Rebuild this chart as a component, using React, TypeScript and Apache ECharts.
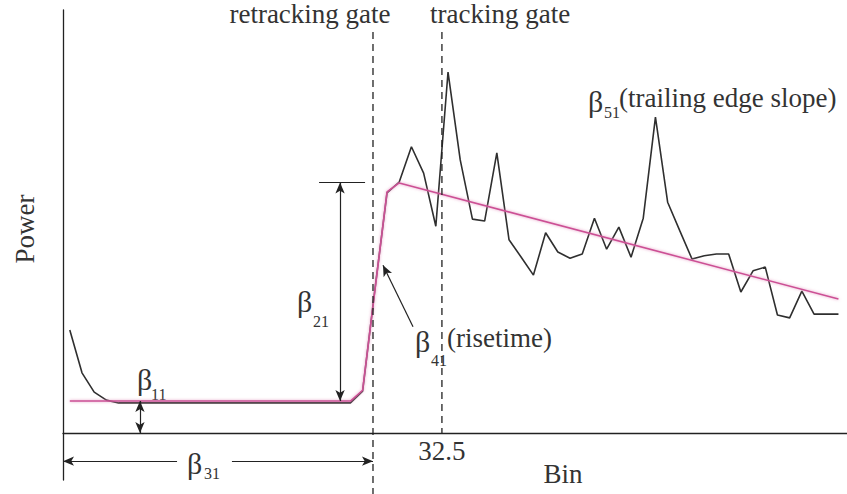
import React, { useEffect, useRef } from "react";
import * as echarts from "echarts";

// Received waveform: range bin and power
const BINS = [
  2, 3, 4, 5, 6, 7, 8, 9, 10, 11, 12, 13, 14, 15, 16, 17, 18, 19, 20, 21, 22, 23, 24, 25,
  26, 27, 28, 29, 30, 31, 32, 33, 34, 35, 36, 37, 38, 39, 40, 41, 42, 43, 44, 45, 46, 47,
  48, 49, 50, 51, 52, 53, 54, 55, 56, 57, 58, 59, 60, 61, 62, 63, 64, 65,
];
const POWER = [
  21.9, 12.8, 8.7, 7.0, 6.4, 6.4, 6.4, 6.4, 6.4, 6.4, 6.4, 6.4, 6.4, 6.4, 6.4, 6.4, 6.4,
  6.4, 6.4, 6.4, 6.4, 6.4, 6.4, 6.4, 8.9, 30.4, 51.1, 53.4, 60.9, 55.3, 44.0, 76.8, 58.1,
  45.5, 45.1, 59.6, 41.1, 37.4, 33.6, 42.6, 38.5, 37.2, 38.1, 45.7, 39.1, 43.8, 37.4,
  45.7, 67.2, 49.1, 43.0, 37.0, 37.7, 38.1, 38.1, 30.0, 34.5, 35.3, 25.1, 24.5, 30.2,
  25.3, 25.3, 25.3,
];

// Fitted model (five-parameter retracker)
const MODEL_BINS = [2, 25, 26, 28, 29, 65];
const MODEL_POWER = [6.8, 6.8, 9.1, 51.3, 53.2, 28.5];

// Model parameters shown as dimension arrows
const NOISE_LEVEL = 6.8; // beta 11
const PEAK_LEVEL = 53.3; // beta 11 + beta 21
const RETRACK_GATE = 26.85; // beta 31
const TRACK_GATE = 32.5;

const GATE_NAMES = ["retracking gate", "tracking gate"];
const GATE_BINS = [RETRACK_GATE, TRACK_GATE];
const X_TICKS = [32.5];

const SERIF = '"Liberation Serif", "Times New Roman", serif';
const INK = "#333";

function txt(text: string, x: number, y: number, size: number, align = "left") {
  return {
    type: "text",
    x,
    y,
    silent: true,
    style: {
      text,
      fill: INK,
      font: `${size}px ${SERIF}`,
      textAlign: align,
      align,
      textVerticalAlign: "middle",
      verticalAlign: "middle",
    },
  };
}

export default function App() {
  const ref = useRef<HTMLDivElement>(null);

  useEffect(() => {
    const chart = echarts.init(ref.current!, null, { renderer: "svg" });

    const arrowLine = { color: "#222", width: 1.2, type: "solid" as const };
    const end = (coord: number[], symbol: string) => ({ coord, symbol });

    const option: any = {
      animation: false,
      backgroundColor: "#fff",
      grid: {
        left: 63,
        right: 0,
        top: 10,
        bottom: 14,
        containLabel: false,
        outerBoundsMode: "none",
      },
      xAxis: {
        type: "value",
        min: 1.443,
        max: 65.7,
        name: "Bin",
        nameLocation: "middle",
        nameMoveOverlap: false,
        // the axis line sits on zero, above the bottom of the grid
        nameGap: -20,
        nameTextStyle: {
          fontFamily: SERIF,
          fontSize: 27,
          color: INK,
          padding: [0, 0, 0, 216],
        },
        axisLine: { onZero: true, lineStyle: { color: "#222", width: 1.3 } },
        axisTick: { show: false },
        splitLine: { show: false },
        axisLabel: {
          customValues: X_TICKS,
          fontFamily: SERIF,
          fontSize: 27,
          color: INK,
          margin: -43,
        },
      },
      yAxis: {
        type: "value",
        min: -10,
        max: 90,
        name: "Power",
        nameLocation: "middle",
        nameGap: 25,
        nameTextStyle: {
          fontFamily: SERIF,
          fontSize: 27,
          color: INK,
          padding: [0, 0, 0, 32],
        },
        axisLine: { show: true, onZero: false, lineStyle: { color: "#222", width: 1.3 } },
        axisTick: { show: false },
        axisLabel: { show: false },
        splitLine: { show: false },
      },
      series: [
        {
          name: "waveform",
          type: "line",
          symbol: "none",
          z: 2,
          lineStyle: { color: "#2f2f2f", width: 1.6 },
          data: BINS.map((b, i) => [b, POWER[i]]),
        },
        {
          name: "model",
          type: "line",
          symbol: "none",
          z: 3,
          lineStyle: {
            color: "#cc4f95",
            width: 1.6,
            shadowColor: "rgba(226,140,186,0.9)",
            shadowBlur: 3,
          },
          data: MODEL_BINS.map((b, i) => [b, MODEL_POWER[i]]),
        },
        ...GATE_BINS.map((g, i) => ({
          name: GATE_NAMES[i],
          type: "line",
          symbol: "none",
          clip: false,
          z: 4,
          lineStyle: { color: "#222", width: 1.3, type: [7, 5] },
          data: [
            [g, 85.3],
            [g, i === 0 ? -13 : 0],
          ],
        })),
        {
          name: "parameters",
          type: "line",
          data: [],
          z: 5,
          markLine: {
            silent: true,
            animation: false,
            symbolSize: [7, 11],
            label: { show: false },
            lineStyle: arrowLine,
            emphasis: { disabled: true },
            data: [
              // beta 21: amplitude
              [end([24.15, PEAK_LEVEL], "arrow"), end([24.15, NOISE_LEVEL], "arrow")],
              [end([22.43, PEAK_LEVEL], "none"), end([26.2, PEAK_LEVEL], "none")],
              // beta 11: thermal noise
              [end([7.75, NOISE_LEVEL], "arrow"), end([7.75, 0], "arrow")],
              // beta 31: mid-point of the leading edge
              [end([10.79, -6], "none"), end([1.443, -6], "arrow")],
              [end([15.29, -6], "none"), end([RETRACK_GATE, -6], "arrow")],
              // beta 41: rise time pointer
              [end([30.13, 22.6], "none"), end([27.67, 35.7], "arrow")],
            ],
          },
        },
      ],
      graphic: [
        txt("retracking gate", 310, 14, 27, "center"),
        txt("tracking gate", 430, 14, 27),
        txt("β", 297, 301, 30),
        txt("21", 313, 321.6, 16),
        txt("β", 137, 379, 30),
        txt("11", 151, 394.6, 16),
        txt("β", 187, 463, 30),
        txt("31", 204, 473.6, 16),
        txt("β", 415, 341, 30),
        txt("41", 431, 360.6, 16),
        txt("(risetime)", 447, 337.9, 27),
        txt("β", 588, 101, 30),
        txt("51", 604, 112.6, 16),
        txt("(trailing edge slope)", 619, 97.9, 27),
      ],
    };

    chart.setOption(option);
    return () => chart.dispose();
  }, []);

  return (
    <div
      ref={ref}
      style={{ position: "fixed", left: 0, top: 0, width: 847, height: 494, background: "#fff" }}
    />
  );
}
